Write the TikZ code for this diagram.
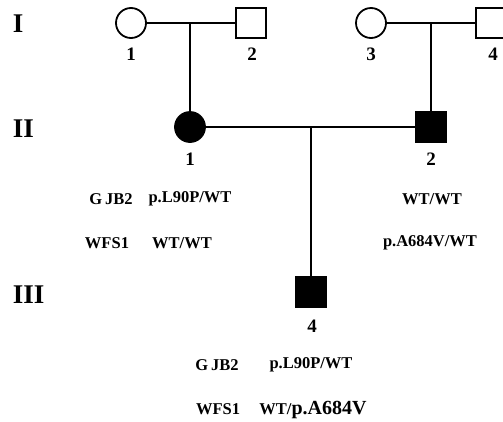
\documentclass[tikz,border=0pt]{standalone}
\usepackage{fontspec}
\setmainfont{Liberation Serif}
\begin{document}
\begin{tikzpicture}[x=1pt,y=-1pt,
  line width=1.8pt,
  fem/.style={circle,draw,minimum size=30pt,inner sep=0pt},
  mal/.style={rectangle,draw,minimum size=30pt,inner sep=0pt},
  aff/.style={fill=black},
  num/.style={font=\bfseries\fontsize{19}{19}\selectfont,inner sep=0pt},
  gen/.style={font=\bfseries\fontsize{27}{27}\selectfont,inner sep=0pt,anchor=west},
  gt/.style={font=\bfseries\fontsize{16.5}{16.5}\selectfont,inner sep=0pt}]
\useasboundingbox (0,0) rectangle (503,421);
% generation I
\node[fem] (i1) at (131,23) {};
\node[mal] (i2) at (251,23) {};
\node[fem] (i3) at (371,23) {};
\node[mal] (i4) at (491,23) {};
\coordinate (m1) at (190,23);
\coordinate (m2) at (431,23);
\draw (i1) -- (i2);
\draw (i3) -- (i4);
\node[num] (l1) at (131,54) {1};
\node[num] (l2) at (252,54) {2};
\node[num] (l3) at (371,54) {3};
\node[num] (l4) at (493,54) {4};
% generation II
\node[fem,aff] (ii1) at (190,127) {};
\node[mal,aff] (ii2) at (431,127) {};
\draw (m1) -- (ii1);
\draw (m2) -- (ii2);
\draw (ii1) -- (ii2);
\coordinate (m3) at (311,127);
\node[num] (l5) at (190,159) {1};
\node[num] (l6) at (431,159) {2};
% generation III
\node[mal,aff] (iii4) at (311,292) {};
\draw (m3) -- (iii4);
\node[num] (l7) at (312,326) {4};
% generation labels
\node[gen] (g1) at (12,24) {I};
\node[gen] (g2) at (12,129) {II};
\node[gen] (g3) at (12,295) {III};
% genotypes
\node[gt] (t1) at (111,199) {G\,JB2};
\node[gt] (t2) at (190,199) {p.L90P/WT};
\node[gt] (t3) at (432,199) {WT/WT};
\node[gt] (t4) at (107,243) {WFS1};
\node[gt] (t5) at (182,243) {WT/WT};
\node[gt] (t6) at (430,243) {p.A684V/WT};
\node[gt] (t7) at (217,365) {G\,JB2};
\node[gt] (t8) at (311,365) {p.L90P/WT};
\node[gt] (t9) at (218,409) {WFS1};
\node[gt,anchor=base] (t10) at (313,414) {WT/{\fontsize{20}{20}\selectfont p.A684V}};
\end{tikzpicture}
\end{document}
